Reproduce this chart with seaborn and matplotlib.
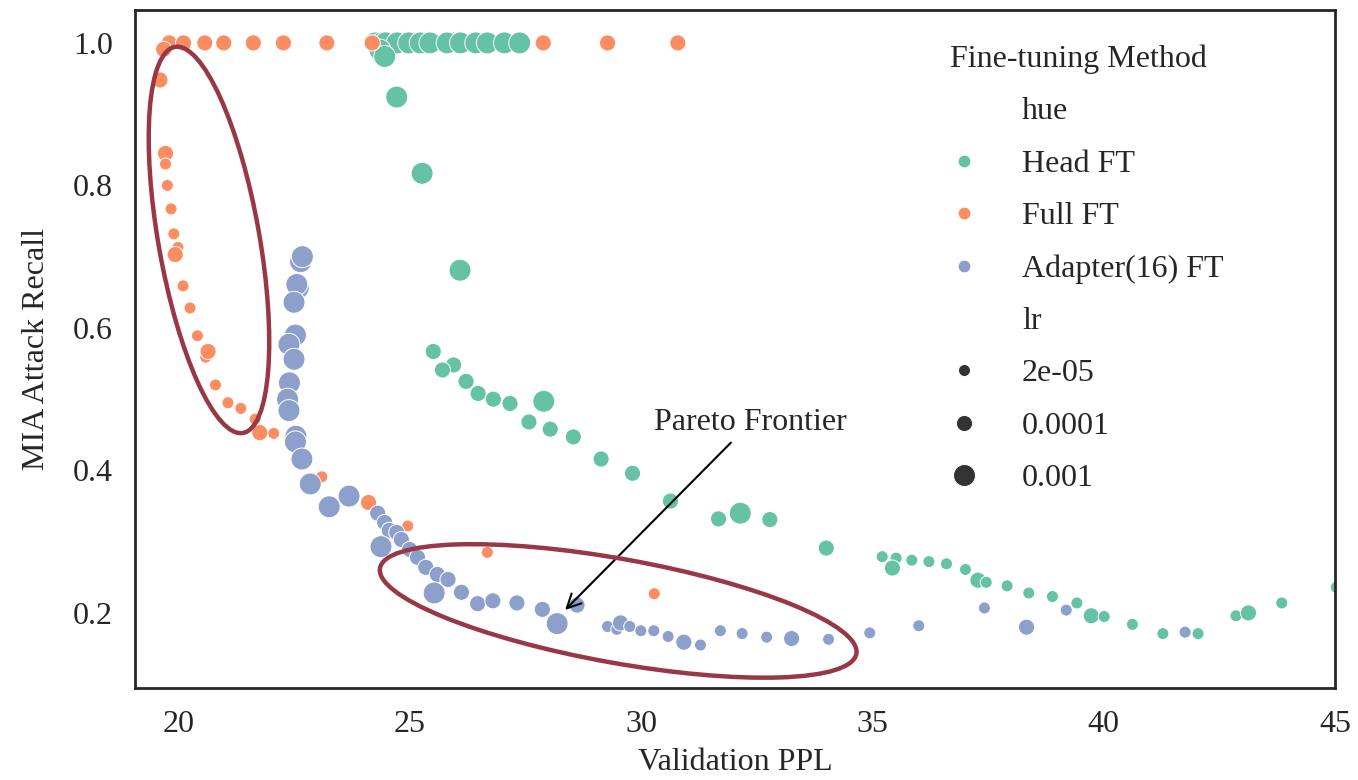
import matplotlib
matplotlib.use("Agg")
import matplotlib.pyplot as plt
import matplotlib.transforms as mtransforms
from matplotlib.patches import Ellipse
import seaborn as sns
import pandas as pd
import numpy as np

# ---- data ----
methods = ["Head FT", "Full FT", "Adapter(16) FT"]
lr_levels = [2e-05, 0.0001, 0.001]

head_ppl = [24.25, 24.39, 24.47, 24.72, 24.97, 25.22, 25.43, 25.80, 26.09, 26.42, 26.67, 27.04, 27.37,
            24.35, 24.45, 24.71, 25.26, 26.08,
            25.50, 25.94, 25.70, 26.21, 26.47, 26.80, 27.16, 27.89, 27.57, 28.03, 28.53, 29.13,
            29.81, 30.63, 31.67, 32.14, 32.78, 34.00,
            35.21, 35.51, 35.43, 35.85, 36.22, 36.60, 37.01, 37.28, 37.46, 37.91, 38.38, 38.89,
            39.42, 39.73, 40.01, 40.62, 41.28, 42.04, 42.86, 43.13, 43.85, 45.03]
head_recall = [1.0, 1.0, 1.0, 1.0, 1.0, 1.0, 1.0, 1.0, 1.0, 1.0, 1.0, 1.0, 1.0,
               0.990, 0.981, 0.924, 0.817, 0.681,
               0.567, 0.548, 0.541, 0.525, 0.508, 0.500, 0.494, 0.497, 0.468, 0.458, 0.447, 0.416,
               0.396, 0.357, 0.332, 0.340, 0.331, 0.291,
               0.279, 0.277, 0.263, 0.274, 0.272, 0.269, 0.261, 0.246, 0.243, 0.238, 0.228, 0.223,
               0.214, 0.196, 0.195, 0.184, 0.171, 0.171, 0.196, 0.200, 0.214, 0.236]
head_lr = [0.001] * 18 + \
          [0.0001, 0.0001, 0.0001, 0.0001, 0.0001, 0.0001, 0.0001, 0.001, 0.0001, 0.0001, 0.0001, 0.0001,
           0.0001, 0.0001, 0.0001, 0.001, 0.0001, 0.0001,
           2e-05, 2e-05, 0.0001, 2e-05, 2e-05, 2e-05, 2e-05, 0.0001, 2e-05, 2e-05, 2e-05, 2e-05,
           2e-05, 0.0001, 2e-05, 2e-05, 2e-05, 2e-05, 2e-05, 0.0001, 2e-05, 2e-05]

full_ppl = [19.79, 20.10, 20.56, 20.97, 21.61, 22.26, 23.20, 24.18, 27.88, 29.27, 30.79,
            19.67, 19.59, 19.71, 19.71, 19.75, 19.83, 19.89, 19.98, 19.92, 20.09, 20.24, 20.40,
            20.58, 20.63, 20.79, 21.06, 21.34, 21.65, 21.75, 22.05, 23.09, 24.10, 24.95, 26.67, 30.28]
full_recall = [1.0, 1.0, 1.0, 1.0, 1.0, 1.0, 1.0, 1.0, 1.0, 1.0, 1.0,
               0.991, 0.948, 0.845, 0.830, 0.800, 0.767, 0.732, 0.713, 0.703, 0.659, 0.628, 0.589,
               0.559, 0.567, 0.520, 0.495, 0.487, 0.472, 0.453, 0.452, 0.391, 0.355, 0.322, 0.285, 0.227]
full_lr = [0.0001] * 11 + \
          [0.0001, 0.0001, 0.0001, 2e-05, 2e-05, 2e-05, 2e-05, 2e-05, 0.0001, 2e-05, 2e-05, 2e-05,
           2e-05, 0.0001, 2e-05, 2e-05, 2e-05, 2e-05, 0.0001, 2e-05, 2e-05, 0.0001, 2e-05, 2e-05, 2e-05]

adapter_ppl = [22.63, 22.67, 22.58, 22.55, 22.49, 22.52, 22.38, 22.49, 22.39, 22.35, 22.38, 22.53,
               22.52, 22.66, 22.84, 23.25, 23.68,
               24.30, 24.45, 24.55, 24.71, 24.81, 24.37, 24.99, 25.16, 25.34, 25.59, 25.82, 25.52,
               26.11, 26.46, 26.79, 27.31, 27.86, 28.18, 28.61,
               29.27, 29.47, 29.55, 29.75, 29.99, 30.27, 30.58, 30.92, 31.28, 31.71, 32.18, 32.71,
               33.25, 34.05, 34.94, 36.00, 37.42, 38.33, 39.19, 41.76]
adapter_recall = [0.693, 0.700, 0.656, 0.661, 0.636, 0.590, 0.577, 0.556, 0.523, 0.500, 0.484, 0.448,
                  0.440, 0.416, 0.381, 0.349, 0.364,
                  0.340, 0.327, 0.316, 0.313, 0.303, 0.293, 0.289, 0.278, 0.264, 0.254, 0.247, 0.228,
                  0.229, 0.213, 0.217, 0.214, 0.205, 0.185, 0.211,
                  0.181, 0.177, 0.186, 0.181, 0.175, 0.175, 0.167, 0.159, 0.155, 0.175, 0.171, 0.166,
                  0.164, 0.163, 0.172, 0.182, 0.207, 0.180, 0.204, 0.173]
adapter_lr = [0.001] * 17 + \
             [0.0001, 0.0001, 0.0001, 0.0001, 0.0001, 0.001, 0.0001, 0.0001, 0.0001, 0.0001, 0.0001, 0.001,
              0.0001, 0.0001, 0.0001, 0.0001, 0.0001, 0.001, 0.0001,
              2e-05, 2e-05, 0.0001, 2e-05, 2e-05, 2e-05, 2e-05, 0.0001, 2e-05, 2e-05, 2e-05, 2e-05,
              0.0001, 2e-05, 2e-05, 2e-05, 2e-05, 0.0001, 2e-05, 2e-05]

df = pd.concat([
    pd.DataFrame({"ppl": head_ppl, "recall": head_recall, "hue": methods[0], "lr": head_lr}),
    pd.DataFrame({"ppl": full_ppl, "recall": full_recall, "hue": methods[1], "lr": full_lr}),
    pd.DataFrame({"ppl": adapter_ppl, "recall": adapter_recall, "hue": methods[2], "lr": adapter_lr}),
], ignore_index=True)
df["lr"] = df["lr"].map(str)

sns.set_theme(style="white")
plt.rcParams["font.family"] = ["Liberation Serif", "DejaVu Serif"]
FS = 23

fig, ax = plt.subplots(figsize=(13.58, 7.8), dpi=100)
fig.subplots_adjust(left=0.0994, right=0.983, top=0.987, bottom=0.118)

sizes = {"2e-05": 75, "0.0001": 135, "0.001": 250}
sns.scatterplot(data=df, x="ppl", y="recall", hue="hue", size="lr",
                hue_order=methods, size_order=[str(v) for v in lr_levels],
                sizes=sizes, palette="Set2", legend="full", ax=ax)

ax.set_xlim(19.05, 45.0)
ax.set_ylim(0.0947, 1.046)
ax.set_xticks([20, 25, 30, 35, 40, 45])
ax.set_yticks([0.2, 0.4, 0.6, 0.8, 1.0])
ax.tick_params(labelsize=FS, pad=10)
ax.set_xlabel("Validation PPL", fontsize=FS, labelpad=6)
ax.set_ylabel("MIA Attack Recall", fontsize=FS, labelpad=16)
for sp in ax.spines.values():
    sp.set_color(".15")
    sp.set_linewidth(2)

# highlight rings, sized in inches around a data-space centre
ring_color = "#993845"
def add_ring(cx, cy, w, h, angle):
    trans = fig.dpi_scale_trans + mtransforms.ScaledTranslation(cx, cy, ax.transData)
    ax.add_patch(Ellipse((0, 0), w, h, angle=angle, transform=trans,
                         fill=False, edgecolor=ring_color, lw=3.2, zorder=5))

add_ring(20.65, 0.7235, 1.01, 3.92, 10)
add_ring(29.50, 0.2028, 4.84, 1.04, -10.2)

ax.annotate("Pareto Frontier", xy=(28.31, 0.2014), xytext=(32.36, 0.4667),
            ha="center", va="center", fontsize=FS,
            arrowprops=dict(arrowstyle="->", color="black", lw=1.5, mutation_scale=25))

sns.move_legend(ax, "upper left", bbox_to_anchor=(0.654, 0.968), frameon=False,
                title="Fine-tuning Method", fontsize=FS, title_fontsize=FS,
                borderaxespad=0, labelspacing=0.72)
leg = ax.get_legend()
for h, t in zip(leg.legend_handles, leg.get_texts()):
    if t.get_text() in methods:
        if hasattr(h, "set_sizes"):
            h.set_sizes([85])
        elif hasattr(h, "set_markersize"):
            h.set_markersize(np.sqrt(85))

fig.savefig("out.png", dpi=100)
